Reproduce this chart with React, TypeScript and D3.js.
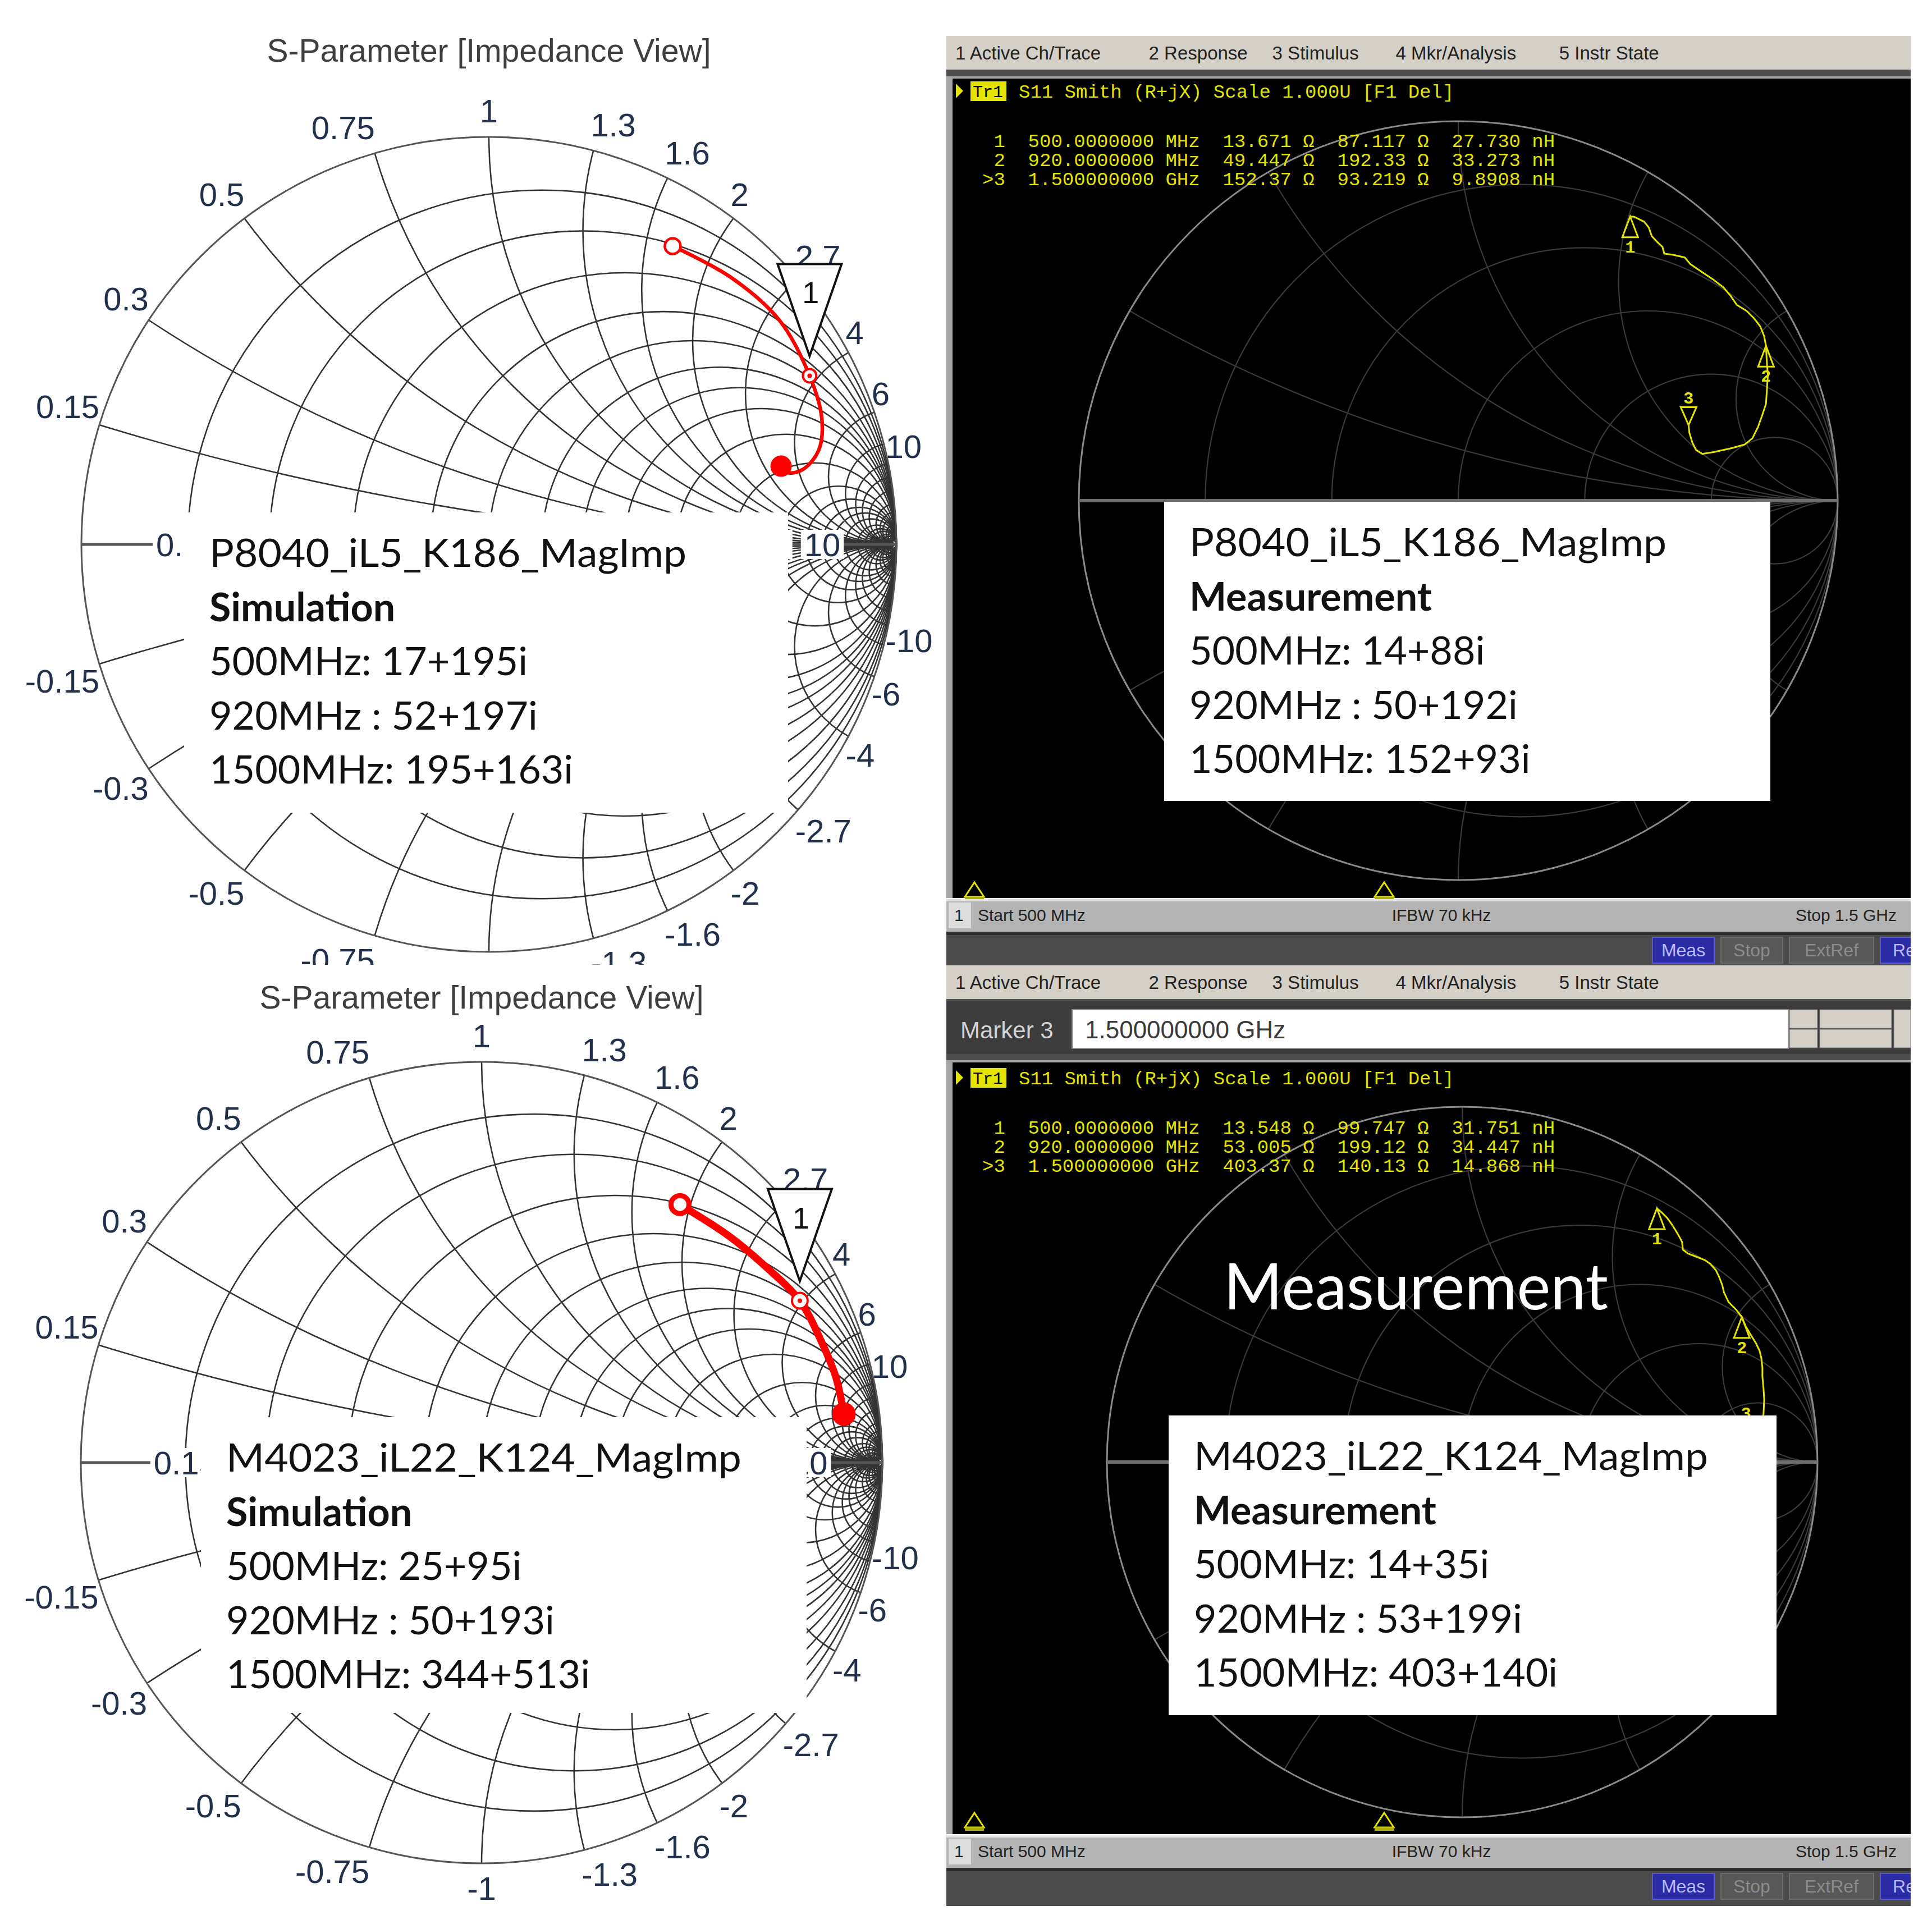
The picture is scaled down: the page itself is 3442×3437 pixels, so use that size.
import React from 'react';
import * as d3 from 'd3';

const W = 3442;
const H = 3437;

// simulator Smith chart grid (normalised r and x), labelled values
const simGrid = [0.15, 0.3, 0.5, 0.75, 1, 1.3, 1.6, 2, 2.7, 4, 6, 10];
// extra unlabelled lines that crowd into the right edge
const simGridDense = [8, 12, 15, 20, 25, 30, 40, 50, 70, 100];
// analyzer Smith chart grid
const vnaR = [0.2, 0.5, 1, 2, 5];
const vnaX = [0.268, 0.577, 1, 1.732, 3.732];

// simulated S11 (reflection coefficient)
const simTopRe = [0.451, 0.593, 0.713, 0.787, 0.817, 0.81, 0.772, 0.735, 0.717];
const simTopIm = [0.732, 0.656, 0.55, 0.414, 0.309, 0.233, 0.185, 0.176, 0.192];
const simBotRe = [0.495, 0.619, 0.71, 0.794, 0.847, 0.884, 0.904];
const simBotIm = [0.644, 0.564, 0.488, 0.404, 0.304, 0.213, 0.121];

const measTopRe = [0.453, 0.464, 0.49, 0.502, 0.51, 0.525, 0.538, 0.543, 0.566, 0.597, 0.612, 0.643, 0.673, 0.699, 0.719, 0.734, 0.76, 0.78, 0.796, 0.806, 0.811, 0.813, 0.816, 0.813, 0.811, 0.801, 0.79, 0.775, 0.755, 0.719, 0.673, 0.643, 0.627, 0.617, 0.609, 0.607];
const measTopIm = [0.749, 0.748, 0.735, 0.72, 0.697, 0.681, 0.669, 0.651, 0.648, 0.641, 0.623, 0.602, 0.582, 0.562, 0.538, 0.516, 0.5, 0.48, 0.459, 0.434, 0.408, 0.368, 0.332, 0.286, 0.255, 0.225, 0.194, 0.164, 0.148, 0.138, 0.128, 0.123, 0.133, 0.153, 0.179, 0.199];
const measTopMarkers = [0, 20, 35];
const measBotRe = [0.548, 0.561, 0.577, 0.592, 0.608, 0.619, 0.621, 0.635, 0.656, 0.682, 0.698, 0.714, 0.724, 0.732, 0.737, 0.75, 0.771, 0.787, 0.798, 0.814, 0.827, 0.837, 0.842, 0.845, 0.845, 0.848, 0.85, 0.848, 0.84, 0.82, 0.799];
const measBotIm = [0.714, 0.703, 0.687, 0.666, 0.64, 0.619, 0.598, 0.587, 0.579, 0.569, 0.558, 0.54, 0.519, 0.498, 0.477, 0.45, 0.429, 0.408, 0.382, 0.355, 0.334, 0.313, 0.292, 0.266, 0.24, 0.208, 0.176, 0.134, 0.1, 0.075, 0.062];
const measBotMarkers = [0, 17, 30];

// analyzer marker readouts
const mkFreq = ['500.0000000 MHz', '920.0000000 MHz', '1.500000000 GHz'];
const topR = ['13.671', '49.447', '152.37'];
const topX = ['87.117', '192.33', '93.219'];
const topL = ['27.730', '33.273', '9.8908'];
const botR = ['13.548', '53.005', '403.37'];
const botX = ['99.747', '199.12', '140.13'];
const botL = ['31.751', '34.447', '14.868'];

// annotation boxes
const simTopLines = ['P8040_iL5_K186_MagImp', 'Simulation', '500MHz: 17+195i', '920MHz : 52+197i', '1500MHz: 195+163i'];
const measTopLines = ['P8040_iL5_K186_MagImp', 'Measurement', '500MHz: 14+88i', '920MHz : 50+192i', '1500MHz: 152+93i'];
const simBotLines = ['M4023_iL22_K124_MagImp', 'Simulation', '500MHz: 25+95i', '920MHz : 50+193i', '1500MHz: 344+513i'];
const measBotLines = ['M4023_iL22_K124_MagImp', 'Measurement', '500MHz: 14+35i', '920MHz : 53+199i', '1500MHz: 403+140i'];

const menuItems = ['1 Active Ch/Trace', '2 Response', '3 Stimulus', '4 Mkr/Analysis', '5 Instr State'];
const buttonLabels = ['Meas', 'Stop', 'ExtRef', 'Real'];

const CAL = 'Lato, "Open Sans", sans-serif';
const TAH = '"Liberation Sans", Arial, sans-serif';
const MONO = '"Liberation Mono", "DejaVu Sans Mono", monospace';
const YEL = '#e4e400';
const RED = '#ff0000';

const PX0 = 1686;
const PX1 = 3404;

const smithScales = (cx: number, cy: number, R: number) => [
  d3.scaleLinear().domain([-1, 1]).range([cx - R, cx + R]),
  d3.scaleLinear().domain([-1, 1]).range([cy + R, cy - R]),
];

function SimChart({ id, cx, cy, R, titleY, re, im, mid, lw, dot, hideX0, hideX1, clipY }: any) {
  const [sx, sy] = smithScales(cx, cy, R);
  const vals = simGrid.concat(simGridDense);
  const idx = d3.range(re.length);
  const path = d3.line<number>().x(i => sx(re[i])).y(i => sy(im[i])).curve(d3.curveCatmullRom.alpha(0.5))(idx);
  const fs = 58;
  const textW = (s: string) => d3.sum(s.split(''), c => (c === '.' ? 0.278 : c === '-' ? 0.333 : 0.556)) * fs;
  const last = re.length - 1;
  const mx = sx(re[mid]);
  const my = sy(im[mid]);
  const apex = my - 35;
  const top = apex - 164;

  // reactance labels round the rim; skip the ones cut off below the panel edge
  const rimLabels = simGrid.flatMap(v => [1, -1].map(s => {
    const th = Math.PI - 2 * Math.atan(v);
    const px = sx(Math.cos(th));
    const py = sy(s * Math.sin(th));
    const gap = 20 * Math.sin(th) + (s > 0 ? 6 : 3);
    const anchor = v < 1 ? 'end' : v > 1 ? 'start' : 'middle';
    const x = v > 1 ? px - 5 : px;
    const y = s > 0 ? py - gap : py + gap + 0.72 * fs;
    if (clipY && y - 0.72 * fs > clipY - 8) return null;
    return (
      <text key={`l${v}${s}`} x={x} y={y} textAnchor={anchor} fontFamily={TAH} fontSize={fs} fill="#22304c">
        {s < 0 ? `-${v}` : `${v}`}
      </text>
    );
  }));

  // resistance labels along the real axis; the ones fully under the note box are not visible
  const axisLabels = simGrid
    .map(v => ({ v, gx: sx((v - 1) / (v + 1)), w: textW(`${v}`) }))
    .filter(d => !(d.gx - d.w / 2 > hideX0 && d.gx + d.w / 2 < hideX1))
    .map(d => (
      <g key={`a${d.v}`}>
        <rect x={d.gx - d.w / 2 - 6} y={cy - 26} width={d.w + 12} height={52} fill="#fff" />
        <text x={d.gx} y={cy + 21} textAnchor="middle" fontFamily={TAH} fontSize={fs} fill="#22304c">{`${d.v}`}</text>
      </g>
    ));

  return (
    <g>
      <defs>
        <clipPath id={`unit-${id}`}><circle cx={cx} cy={cy} r={R} /></clipPath>
      </defs>
      <text x={cx} y={titleY} textAnchor="middle" fontFamily={TAH} fontSize={57} fill="#3e3e3e">
        S-Parameter [Impedance View]
      </text>
      <g fill="none" stroke="#333" strokeWidth={2.6}>
        {vals.map(r => <circle key={`r${r}`} cx={sx(r / (1 + r))} cy={cy} r={R / (1 + r)} />)}
        <g clipPath={`url(#unit-${id})`}>
          {vals.flatMap(x => [x, -x]).map(x => (
            <circle key={`x${x}`} cx={sx(1)} cy={sy(1 / x)} r={R / Math.abs(x)} />
          ))}
        </g>
      </g>
      <circle cx={cx} cy={cy} r={R} fill="none" stroke="#555" strokeWidth={3} />
      <line x1={sx(-1)} x2={sx(1)} y1={cy} y2={cy} stroke="#555" strokeWidth={5} />
      {axisLabels}
      {rimLabels}
      <path d={`M${mx - 57},${top} L${mx + 57},${top} L${mx},${apex} Z`} fill="#fff" stroke="#111" strokeWidth={4} />
      <text x={mx + 2} y={top + 70} textAnchor="middle" fontFamily={TAH} fontSize={54} fill="#111">1</text>
      <path d={path || ''} fill="none" stroke={RED} strokeWidth={lw} strokeLinecap="round" />
      <circle cx={sx(re[0])} cy={sy(im[0])} r={dot} fill="#fff" stroke={RED} strokeWidth={lw * 0.7} />
      <circle cx={mx} cy={my} r={dot - 2} fill="#fff" stroke={RED} strokeWidth={4} />
      <circle cx={mx} cy={my} r={4} fill={RED} />
      <circle cx={sx(re[last])} cy={sy(im[last])} r={dot + 5} fill={RED} />
    </g>
  );
}

function StimMark({ x, y }: any) {
  return (
    <g>
      <path d={`M${x - 17},${y + 20} L${x + 17},${y + 20} L${x},${y - 6} Z`} fill="none" stroke={YEL} strokeWidth={3} />
      <rect x={x - 17} y={y + 20} width={34} height={6} fill="#b0b000" />
    </g>
  );
}

function Vna({ id, p, re, im, mIdx, Rv, Xv, Lv, big }: any) {
  const [sx, sy] = smithScales(p.cx, p.cy, p.R);
  const trace = d3.line<number>().x(i => sx(re[i])).y(i => sy(im[i]))(d3.range(re.length));
  let mxPos = PX0 + 16;
  const menu = menuItems.map(m => {
    const x = mxPos;
    mxPos += m.length * 17.8 + 42;
    return <text key={m} x={x} y={p.menuY + 42} fontFamily={TAH} fontSize={33} fill="#222">{m}</text>;
  });
  let bx = 2944;
  const buttons = buttonLabels.map((b, i) => {
    const w = b.length * 20 + 30;
    const x = bx;
    bx += w + 12;
    const blue = i === 0 || i === 3;
    return (
      <g key={b}>
        <rect x={x} y={p.barY + 10} width={w} height={46} fill={blue ? '#2b2ba6' : '#585858'} stroke={blue ? '#5a5ad0' : '#6c6c6c'} strokeWidth={2} />
        <text x={x + w / 2} y={p.barY + 44} textAnchor="middle" fontFamily={TAH} fontSize={32} fill={blue ? '#b8bcff' : '#8c8c8c'}>{b}</text>
      </g>
    );
  });
  const readouts = mkFreq.map((f, i) => {
    const s = `${i === 2 ? '>' : ' '}${i + 1}  ${f}  ${Rv[i].padStart(6)} Ω  ${Xv[i].padStart(6)} Ω  ${Lv[i].padStart(6)} nH`;
    return (
      <text key={i} x={1750} y={p.readY + i * 34} fontFamily={MONO} fontSize={34} fill={YEL} xmlSpace="preserve" style={{ whiteSpace: 'pre' }}>{s}</text>
    );
  });
  const markers = mIdx.map((ix: number, i: number) => {
    const px = sx(re[ix]);
    const py = sy(im[ix]);
    const active = i === mIdx.length - 1;
    return active ? (
      <g key={i}>
        <path d={`M${px},${py} L${px - 14},${py - 32} L${px + 14},${py - 32} Z`} fill="none" stroke={YEL} strokeWidth={3} />
        <text x={px} y={py - 38} textAnchor="middle" fontFamily={MONO} fontWeight={700} fontSize={30} fill={YEL}>{i + 1}</text>
      </g>
    ) : (
      <g key={i}>
        <path d={`M${px},${py} L${px - 14},${py + 37} L${px + 14},${py + 37} Z`} fill="none" stroke={YEL} strokeWidth={3} />
        <text x={px} y={py + 64} textAnchor="middle" fontFamily={MONO} fontWeight={700} fontSize={30} fill={YEL}>{i + 1}</text>
      </g>
    );
  });
  const hy = p.headerY;
  return (
    <g>
      <defs>
        <clipPath id={`vna-${id}`}><circle cx={p.cx} cy={p.cy} r={p.R} /></clipPath>
      </defs>
      {/* menu bar */}
      <rect x={PX0} y={p.menuY} width={PX1 - PX0} height={60} fill="#d4d0c8" />
      {menu}
      <rect x={PX0} y={p.menuY + 60} width={PX1 - PX0} height={p.screenY0 - p.menuY - 60} fill="#4e4e4e" />
      {p.markerRow && (
        <g>
          <rect x={PX0} y={p.menuY + 64} width={PX1 - PX0} height={94} fill="#3c3c3c" />
          <text x={1711} y={p.menuY + 130} fontFamily={TAH} fontSize={42} fill="#d4d4d4">Marker 3</text>
          <rect x={1910} y={p.menuY + 79} width={1276} height={69} fill="#fff" stroke="#8a8a8a" strokeWidth={2} />
          <text x={1933} y={p.menuY + 130} fontFamily={TAH} fontSize={44} fill="#3a3a3a">1.500000000 GHz</text>
          <rect x={3188} y={p.menuY + 79} width={50} height={33} fill="#d4d0c8" stroke="#777" />
          <rect x={3188} y={p.menuY + 114} width={50} height={33} fill="#d4d0c8" stroke="#777" />
          <rect x={3242} y={p.menuY + 79} width={128} height={33} fill="#d4d0c8" stroke="#777" />
          <rect x={3242} y={p.menuY + 114} width={128} height={33} fill="#d4d0c8" stroke="#777" />
          <rect x={3374} y={p.menuY + 79} width={30} height={68} fill="#d4d0c8" stroke="#777" />
        </g>
      )}
      {/* screen */}
      <rect x={PX0} y={p.screenY0 - 4} width={PX1 - PX0} height={p.screenY1 - p.screenY0 + 4} fill="#a4a4a4" />
      <rect x={PX0 + 11} y={p.screenY0} width={PX1 - PX0 - 11} height={p.screenY1 - p.screenY0} fill="#000" />
      <g fill="none" stroke="#3a3a3a" strokeWidth={2.2} clipPath={`url(#vna-${id})`}>
        {vnaR.map(r => <circle key={`r${r}`} cx={sx(r / (1 + r))} cy={p.cy} r={p.R / (1 + r)} />)}
        {vnaX.flatMap(x => [x, -x]).map(x => (
          <circle key={`x${x}`} cx={sx(1)} cy={sy(1 / x)} r={p.R / Math.abs(x)} />
        ))}
      </g>
      <circle cx={p.cx} cy={p.cy} r={p.R} fill="none" stroke="#8a8a8a" strokeWidth={3} />
      <line x1={sx(-1)} x2={sx(1)} y1={p.cy} y2={p.cy} stroke="#6e6e6e" strokeWidth={6} />
      <path d={trace || ''} fill="none" stroke={YEL} strokeWidth={3} strokeLinejoin="round" />
      {markers}
      {big && (
        <text x={2180} y={2333} fontFamily={CAL} fontSize={115} fill="#fff" textLength={685} lengthAdjust="spacingAndGlyphs">Measurement</text>
      )}
      {/* trace header */}
      <path d={`M1703,${hy - 13} L1716,${hy} L1703,${hy + 13} Z`} fill={YEL} />
      <rect x={1729} y={hy - 17} width={64} height={35} fill={YEL} />
      <text x={1733} y={hy + 11} fontFamily={MONO} fontSize={30} fill="#000">Tr1</text>
      <text x={1815} y={hy + 12} fontFamily={MONO} fontSize={34} fill={YEL} xmlSpace="preserve" style={{ whiteSpace: 'pre' }}>
        S11 Smith (R+jX) Scale 1.000U [F1 Del]
      </text>
      {readouts}
      <StimMark x={1736} y={p.stimY} />
      <StimMark x={2466} y={p.stimY} />
      {/* status bar */}
      <rect x={PX0} y={p.statusY} width={PX1 - PX0} height={p.barY - p.statusY} fill="#b4b4b4" />
      <line x1={PX0} x2={PX1} y1={p.statusY + 2} y2={p.statusY + 2} stroke="#e4e4e4" strokeWidth={4} />
      <rect x={PX0 + 4} y={p.statusY + 6} width={40} height={p.barY - p.statusY - 12} fill="#dcdcdc" />
      <text x={PX0 + 14} y={p.statusY + 39} fontFamily={TAH} fontSize={30} fill="#222">1</text>
      <text x={1742} y={p.statusY + 39} fontFamily={TAH} fontSize={30} fill="#222">Start 500 MHz</text>
      <text x={2568} y={p.statusY + 39} textAnchor="middle" fontFamily={TAH} fontSize={30} fill="#222">IFBW 70 kHz</text>
      <text x={3379} y={p.statusY + 39} textAnchor="end" fontFamily={TAH} fontSize={30} fill="#222">Stop 1.5 GHz</text>
      {/* soft key bar */}
      <rect x={PX0} y={p.barY} width={PX1 - PX0} height={p.barY1 - p.barY} fill="#4b4b4b" />
      <rect x={PX0} y={p.barY} width={PX1 - PX0} height={6} fill="#2c2c2c" />
      {buttons}
    </g>
  );
}

function InfoBox({ x0, y0, x1, y1, lines, firstLen }: any) {
  return (
    <g>
      <rect x={x0} y={y0} width={x1 - x0} height={y1 - y0} fill="#fff" />
      {lines.map((t: string, i: number) => (
        <text
          key={i}
          x={x0 + 45}
          y={y0 + 97 + i * 96.5}
          fontFamily={CAL}
          fontSize={70}
          fontWeight={i === 1 ? 700 : 400}
          fill="#111"
          textLength={i === 0 ? firstLen : undefined}
          lengthAdjust={i === 0 ? 'spacingAndGlyphs' : undefined}
        >
          {t}
        </text>
      ))}
    </g>
  );
}

const topVna = { cx: 2598, cy: 892, R: 676, menuY: 64, screenY0: 140, screenY1: 1600, statusY: 1602, barY: 1660, barY1: 1720, headerY: 162, readY: 262, stimY: 1578 };
const botVna = { cx: 2605, cy: 2605, R: 633, menuY: 1720, markerRow: true, screenY0: 1893, screenY1: 3268, statusY: 3270, barY: 3328, barY1: 3396, headerY: 1920, readY: 2020, stimY: 3236 };

export default function App() {
  return (
    <div style={{ position: 'absolute', left: 0, top: 0 }}>
      <svg width={W} height={H} viewBox={`0 0 ${W} ${H}`} style={{ display: 'block' }}>
        <rect width={W} height={H} fill="#fff" />
        <defs>
          <clipPath id="clip-tl"><rect x={0} y={0} width={PX0} height={1719} /></clipPath>
          <clipPath id="clip-right"><rect x={PX0} y={0} width={PX1 - PX0} height={H} /></clipPath>
        </defs>
        <g clipPath="url(#clip-tl)">
          <SimChart id="t" cx={871} cy={970} R={726} titleY={110} re={simTopRe} im={simTopIm} mid={3} lw={6.5} dot={14} hideX0={328} hideX1={1404} clipY={1719} />
        </g>
        <SimChart id="b" cx={858} cy={2606} R={714} titleY={1797} re={simBotRe} im={simBotIm} mid={3} lw={13} dot={16} hideX0={358} hideX1={1437} />
        <g clipPath="url(#clip-right)">
          <Vna id="t" p={topVna} re={measTopRe} im={measTopIm} mIdx={measTopMarkers} Rv={topR} Xv={topX} Lv={topL} />
          <Vna id="b" p={botVna} re={measBotRe} im={measBotIm} mIdx={measBotMarkers} Rv={botR} Xv={botX} Lv={botL} big />
          <InfoBox x0={2074} y0={894} x1={3154} y1={1427} lines={measTopLines} firstLen={850} />
          <InfoBox x0={2082} y0={2522} x1={3165} y1={3056} lines={measBotLines} firstLen={916} />
        </g>
        <InfoBox x0={328} y0={913} x1={1404} y1={1448} lines={simTopLines} firstLen={850} />
        <InfoBox x0={358} y0={2525} x1={1437} y1={3052} lines={simBotLines} firstLen={918} />
      </svg>
    </div>
  );
}
